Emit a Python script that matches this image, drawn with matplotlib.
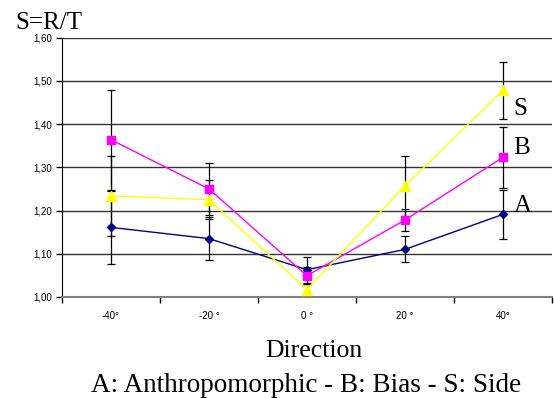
import matplotlib
matplotlib.use("Agg")
import matplotlib.pyplot as plt
import numpy as np

directions = ["-40°", "-20 °", "0 °", "20 °", "40°"]

anthro = [1.161, 1.135, 1.063, 1.110, 1.191]
bias = [1.364, 1.250, 1.049, 1.178, 1.323]
side = [1.234, 1.225, 1.017, 1.257, 1.478]

anthro_err = [0.084, 0.050, 0.030, 0.030, 0.057]
bias_err = [0.116, 0.060, 0.020, 0.025, 0.070]
side_err = [0.092, 0.045, 0.012, 0.070, 0.065]

y_ticks = [1.0, 1.1, 1.2, 1.3, 1.4, 1.5, 1.6]

sans = "Liberation Sans"
serif = "Liberation Serif"

fig = plt.figure(figsize=(5.54, 3.98), dpi=100)
ax = fig.add_axes([0.112, 0.254, 0.884, 0.651])

x = np.arange(len(directions))

# error bars behind the lines
for vals, errs in [(anthro, anthro_err), (bias, bias_err), (side, side_err)]:
    ax.errorbar(x, vals, yerr=errs, fmt="none", ecolor="black",
                elinewidth=0.9, capsize=2.6, capthick=0.9, zorder=2)

ax.plot(x, anthro, color="#000080", marker="D", markersize=4, lw=1, zorder=3)
ax.plot(x, bias, color="#FF00FF", marker="s", markersize=6, lw=1, zorder=3)
ax.plot(x, side, color="#FFFF00", marker="^", markersize=6.5, lw=1, zorder=4)

ax.set_xlim(-0.5, len(directions) - 0.5)
ax.set_ylim(1.0, 1.6)
ax.set_yticks(y_ticks)
ax.set_yticklabels(["{:.2f}".format(v).replace(".", ",") for v in y_ticks],
                   fontsize=7, family=sans)
ax.yaxis.grid(True, color="#333333", lw=1)
ax.set_axisbelow(True)

ax.set_xticks(np.arange(-0.5, len(directions), 1.0))
ax.set_xticklabels([])
ax.set_xticks(x, minor=True)
ax.set_xticklabels(directions, minor=True, fontsize=7, family=sans)
ax.tick_params(axis="x", which="minor", length=0, pad=10)
ax.tick_params(axis="x", which="major", length=4, direction="out", width=1)
ax.tick_params(axis="y", length=4, direction="out", width=1, pad=3)

for side_name in ["top", "right"]:
    ax.spines[side_name].set_visible(False)
ax.spines["left"].set_color("black")
ax.spines["bottom"].set_color("#808080")
ax.spines["bottom"].set_linewidth(1.5)

ax.text(4.11, 1.421, "S", fontsize=18, family=serif, va="baseline")
ax.text(4.11, 1.330, "B", fontsize=18, family=serif, va="baseline")
ax.text(4.11, 1.197, "A", fontsize=18, family=serif, va="baseline")

fig.text(0.027, 0.926, "S=R/T", fontsize=18, family=serif, va="baseline")
fig.text(0.566, 0.104, "Direction", fontsize=18.5, family=serif,
         ha="center", va="baseline")
fig.text(0.553, 0.016, "A: Anthropomorphic - B: Bias - S: Side", fontsize=19.5,
         family=serif, ha="center", va="baseline")

fig.savefig("out.png", dpi=100)
